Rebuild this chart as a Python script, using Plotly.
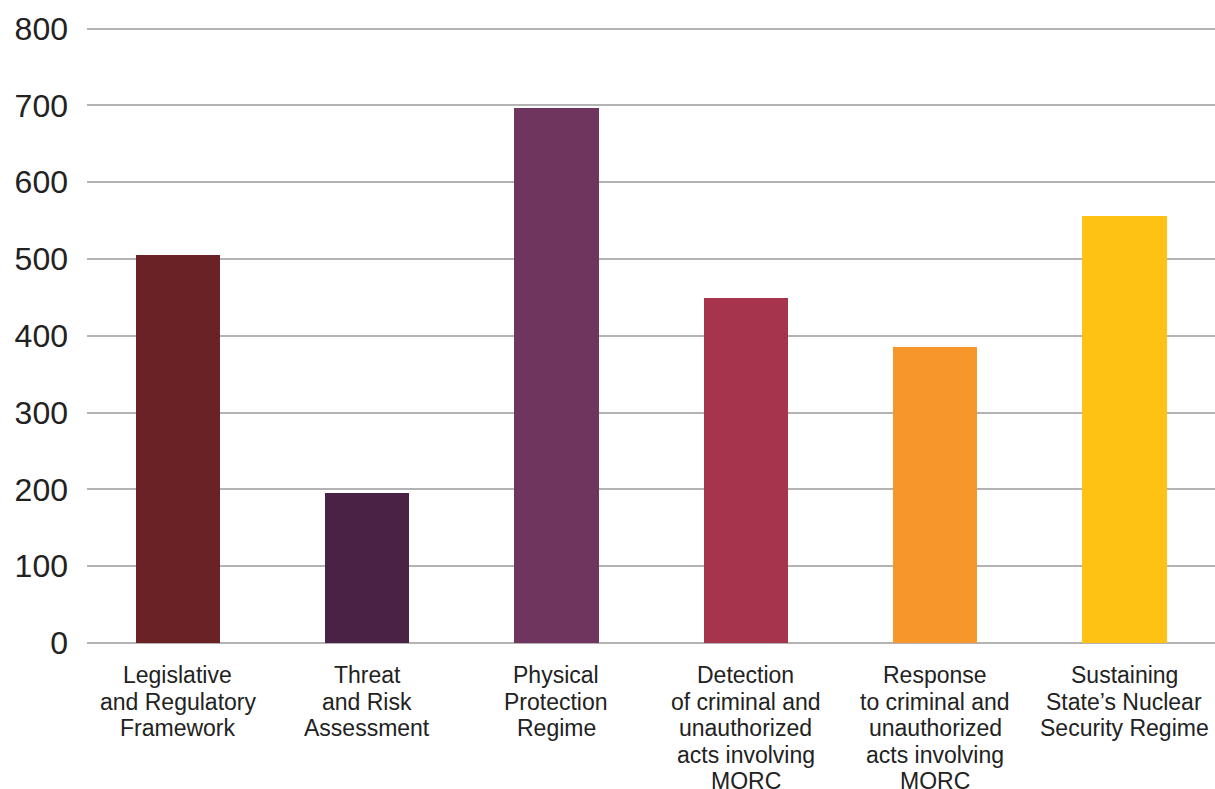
import plotly.graph_objects as go

categories = [
    "Legislative and Regulatory Framework",
    "Threat and Risk Assessment",
    "Physical Protection Regime",
    "Detection of criminal and unauthorized acts involving MORC",
    "Response to criminal and unauthorized acts involving MORC",
    "Sustaining State's Nuclear Security Regime",
]
tick_labels = [
    ["Legislative", "and Regulatory", "Framework"],
    ["Threat", "and Risk", "Assessment"],
    ["Physical", "Protection", "Regime"],
    ["Detection", "of criminal and", "unauthorized", "acts involving", "MORC"],
    ["Response", "to criminal and", "unauthorized", "acts involving", "MORC"],
    ["Sustaining", "State\u2019s Nuclear", "Security Regime"],
]
values = [505, 195, 697, 449, 385, 556]
colors = ["#6B2226", "#4A2245", "#70355E", "#A5344C", "#F7962A", "#FDC213"]
y_ticks = [0, 100, 200, 300, 400, 500, 600, 700, 800]

fig = go.Figure(
    go.Bar(
        x=list(range(len(categories))),
        y=values,
        marker=dict(color=colors, line=dict(width=0)),
        width=0.446,
        hovertext=categories,
    )
)

# multi-line category labels with tight line spacing
annotations = []
for i, lines in enumerate(tick_labels):
    for j, line in enumerate(lines):
        annotations.append(dict(
            x=i, y=0, xref="x", yref="paper",
            text=line, showarrow=False,
            xanchor="center", yanchor="middle",
            yshift=-32 - 26.5 * j,
            font=dict(size=23, color="#222222"),
        ))

fig.update_layout(
    width=1215,
    height=789,
    margin=dict(l=87, r=0, t=27, b=146),
    paper_bgcolor="white",
    plot_bgcolor="white",
    showlegend=False,
    font=dict(family="Liberation Sans, Arial, Helvetica, sans-serif", color="#222222"),
    bargap=0,
    annotations=annotations,
)
fig.update_xaxes(
    range=[-0.48, 5.479],
    tickvals=list(range(len(categories))),
    showticklabels=False,
    showgrid=False,
    showline=False,
    zeroline=False,
    ticks="",
)
fig.update_yaxes(
    range=[0, 802],
    tickvals=y_ticks,
    tickfont=dict(size=32, color="#222222"),
    showgrid=True,
    gridcolor="#B3B3B3",
    gridwidth=1.5,
    zeroline=True,
    zerolinecolor="#B3B3B3",
    zerolinewidth=1.5,
    showline=False,
    ticks="",
    ticklabelstandoff=18,
)

fig.write_html(
    "out.html",
    config={"displayModeBar": False},
    post_script="document.body.style.margin='0';document.body.style.overflow='hidden';",
)
